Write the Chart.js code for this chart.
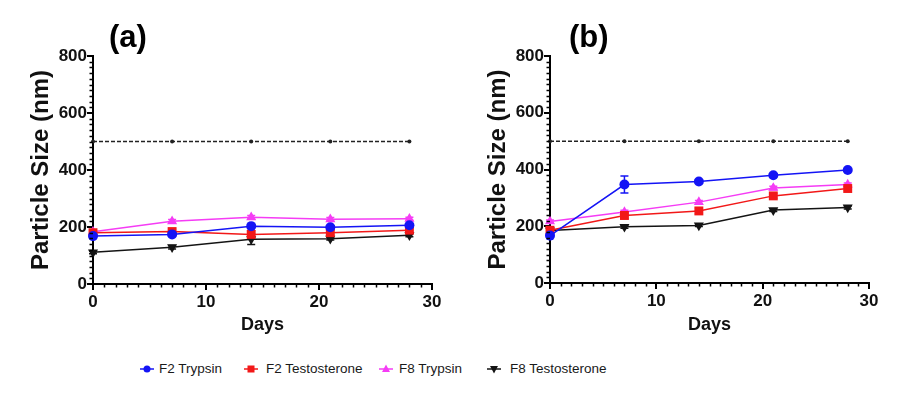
<!DOCTYPE html>
<html><head><meta charset="utf-8">
<script src="https://cdn.jsdelivr.net/npm/chart.js@4.4.1/dist/chart.umd.min.js"></script>
<style>
body{margin:0;background:#fff;width:897px;height:408px;overflow:hidden;position:relative;font-family:"Liberation Sans",Arial,sans-serif;}
.box{position:absolute;top:0;height:340px;}
#boxA{left:0;width:450px}
#boxB{left:450px;width:447px}
.ptitle{position:absolute;font-weight:bold;font-size:31px;color:#000;line-height:1;}
.leg{position:absolute;top:360px;height:18px;font-size:13.5px;color:#1a1a1a;line-height:18px;white-space:nowrap;}
.leg svg{position:absolute;top:3px}
</style></head>
<body>
<div class="box" id="boxA"><canvas id="a"></canvas></div>
<div class="box" id="boxB"><canvas id="b"></canvas></div>
<div class="ptitle" style="left:109px;top:21px">(a)</div>
<div class="ptitle" style="left:569px;top:21px">(b)</div>
<div id="legend"></div>
<script>
// ---------- data ----------
const days = [0, 7, 14, 21, 28];
const limitLine = [500, 500, 500, 500, 500];
const seriesNames = ['F2 Trypsin', 'F2 Testosterone', 'F8 Trypsin', 'F8 Testosterone'];
const xTickLabels = [0, 10, 20, 30];
const yTickLabels = [0, 200, 400, 600, 800];

// Panel (a)
const aF2Trypsin      = [168, 174, 203, 199, 206];
const aF2Testosterone = [180, 184, 174, 180, 189];
const aF8Trypsin      = [183, 220, 234, 227, 229];
const aF8Testosterone = [111, 129, 157, 159, 171];
const aErrF2Trypsin      = [4, 5, 5, 5, 5];
const aErrF2Testosterone = [6, 8, 14, 8, 8];
const aErrF8Trypsin      = [4, 6, 6, 6, 5];
const aErrF8Testosterone = [5, 6, 18, 5, 5];

// Panel (b)
const bF2Trypsin      = [167, 347, 358, 380, 398];
const bF2Testosterone = [186, 238, 254, 307, 333];
const bF8Trypsin      = [217, 250, 285, 335, 347];
const bF8Testosterone = [185, 198, 203, 257, 266];
const bErrF2Trypsin      = [5, 30, 6, 5, 5];
const bErrF2Testosterone = [6, 12, 10, 8, 8];
const bErrF8Trypsin      = [5, 6, 6, 6, 5];
const bErrF8Testosterone = [3, 5, 4, 5, 5];

// ---------- styles ----------
const colors = ['#1414f5', '#f21818', '#f53cf5', '#141414'];
const styles = [
  {pointStyle:'circle', radius:5, rotation:0},
  {pointStyle:'rect', radius:6.3, rotation:0},
  {pointStyle:'triangle', radius:5.8, rotation:0},
  {pointStyle:'triangle', radius:5.8, rotation:180}
];

Chart.defaults.font.family = '"Liberation Sans", Arial, sans-serif';
Chart.defaults.color = '#111';

const errorBars = {
  id: 'errorBars',
  beforeDatasetsDraw(chart) {
    const ctx = chart.ctx, xs = chart.scales.x, ys = chart.scales.y;
    chart.data.datasets.forEach(ds => {
      if (!ds.errors) return;
      ctx.save();
      ctx.strokeStyle = ds.borderColor; ctx.lineWidth = 1.5;
      ds.data.forEach((p, i) => {
        const e = ds.errors[i]; if (!e) return;
        const x = xs.getPixelForValue(p.x);
        const y1 = ys.getPixelForValue(p.y + e), y2 = ys.getPixelForValue(p.y - e);
        ctx.beginPath();
        ctx.moveTo(x, y1); ctx.lineTo(x, y2);
        ctx.moveTo(x - 4, y1); ctx.lineTo(x + 4, y1);
        ctx.moveTo(x - 4, y2); ctx.lineTo(x + 4, y2);
        ctx.stroke();
      });
      ctx.restore();
    });
  }
};

const minorTicks = {
  id: 'minorTicks',
  afterDraw(chart) {
    const ctx = chart.ctx, xs = chart.scales.x, ys = chart.scales.y;
    ctx.save(); ctx.strokeStyle = '#000'; ctx.lineWidth = 1.5;
    ctx.beginPath();
    for (let v = 0; v <= 30; v += 1) {
      if (v % 10 === 0) continue;
      const px = Math.round(xs.getPixelForValue(v)) + 0.5;
      ctx.moveTo(px, xs.top); ctx.lineTo(px, xs.top + 3.5);
    }
    for (let v = 0; v <= 800; v += 20) {
      if (v % 200 === 0) continue;
      const py = Math.round(ys.getPixelForValue(v)) + 0.5;
      ctx.moveTo(ys.right - 3.5, py); ctx.lineTo(ys.right, py);
    }
    ctx.stroke(); ctx.restore();
  }
};

function makeChart(id, series, errors, lay) {
  const datasets = series.map((vals, k) => ({
    label: seriesNames[k],
    data: days.map((d, i) => ({x: d, y: vals[i]})),
    errors: errors[k],
    borderColor: colors[k], backgroundColor: colors[k],
    borderWidth: 1.5,
    pointStyle: styles[k].pointStyle, pointRadius: styles[k].radius,
    pointRotation: styles[k].rotation,
    pointBorderWidth: 0, pointHoverRadius: styles[k].radius,
    clip: false, order: k
  }));
  datasets.push({
    label: 'limit',
    data: days.map((d, i) => ({x: d, y: limitLine[i]})),
    borderColor: '#222', backgroundColor: '#222', borderWidth: 1.5,
    borderDash: [4, 2], pointRadius: 2, pointBorderWidth: 0, clip: false, order: 10
  });
  return new Chart(document.getElementById(id), {
    type: 'line',
    data: {datasets},
    plugins: [errorBars, minorTicks],
    options: {
      responsive: true, maintainAspectRatio: false, animation: false,
      layout: {padding: {left: lay.left, right: lay.right, top: 56, bottom: 0}},
      plugins: {legend: {display: false}, tooltip: {enabled: false}},
      scales: {
        x: {
          type: 'linear', min: 0, max: 30,
          afterFit: s => { s.height = lay.xh; },
          afterBuildTicks: s => { s.ticks = xTickLabels.map(v => ({value: v})); },
          ticks: {font: {size: 17, weight: 'bold'}, color: '#111', padding: 2, maxRotation: 0},
          grid: {drawOnChartArea: false, drawTicks: true, tickLength: 6, color: '#000', lineWidth: 2},
          border: {display: true, color: '#000', width: 2},
          title: {display: true, text: 'Days', font: {size: 18, weight: 'bold'}, color: '#111', padding: {top: 0, bottom: 4}}
        },
        y: {
          type: 'linear', min: 0, max: 800,
          afterFit: s => { s.width = lay.yw; },
          afterBuildTicks: s => { s.ticks = yTickLabels.map(v => ({value: v})); },
          ticks: {font: {size: 17, weight: 'bold'}, color: '#111', padding: 0},
          grid: {drawOnChartArea: false, drawTicks: true, tickLength: 6, color: '#000', lineWidth: 2},
          border: {display: true, color: '#000', width: 2},
          title: {display: true, text: 'Particle Size (nm)', font: {size: 24, weight: 'bold'}, color: '#111', padding: {top: 0, bottom: 0}}
        }
      }
    }
  });
}

makeChart('a',
  [aF2Trypsin, aF2Testosterone, aF8Trypsin, aF8Testosterone],
  [aErrF2Trypsin, aErrF2Testosterone, aErrF8Trypsin, aErrF8Testosterone],
  {left: 27, right: 18, yw: 66, xh: 56});
makeChart('b',
  [bF2Trypsin, bF2Testosterone, bF8Trypsin, bF8Testosterone],
  [bErrF2Trypsin, bErrF2Testosterone, bErrF8Trypsin, bErrF8Testosterone],
  {left: 34, right: 28, yw: 66, xh: 57});

// ---------- legend ----------
const legPos = [[140, 159], [244, 266], [379, 399], [487, 510]];
const shapes = [
  c => `<circle cx="7" cy="6" r="3.5" fill="${c}"/>`,
  c => `<rect x="3.5" y="2.5" width="7" height="7" fill="${c}"/>`,
  c => `<polygon points="7,1.5 11,9 3,9" fill="${c}"/>`,
  c => `<polygon points="7,10.5 11,3 3,3" fill="${c}"/>`
];
const leg = document.getElementById('legend');
seriesNames.forEach((name, k) => {
  const d = document.createElement('div');
  d.className = 'leg';
  d.style.left = legPos[k][0] + 'px';
  d.style.width = (legPos[k][1] - legPos[k][0] + 110) + 'px';
  d.innerHTML = `<svg width="14" height="12"><line x1="0" y1="6" x2="14" y2="6" stroke="${colors[k]}" stroke-width="1.5"/>${shapes[k](colors[k])}</svg>` +
    `<span style="position:absolute;left:${legPos[k][1] - legPos[k][0]}px">${name}</span>`;
  leg.appendChild(d);
});
</script>
</body></html>
